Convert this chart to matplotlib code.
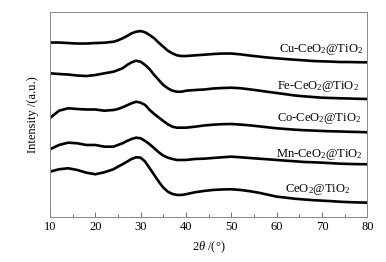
import matplotlib
matplotlib.use("Agg")
import matplotlib.pyplot as plt

plt.rcParams['font.family'] = ['Liberation Serif', 'DejaVu Serif']
plt.rcParams['mathtext.fontset'] = 'custom'
plt.rcParams['mathtext.rm'] = 'Liberation Serif'
plt.rcParams['mathtext.it'] = 'Liberation Serif:italic'

two_theta = list(range(10, 25, 2)) + list(range(25, 41)) + list(range(42, 81, 2))

cu = [177.5, 177.5, 177, 176.5, 176.5, 177, 177.3, 178.3,
      179.7, 181.7, 184, 186.7, 188.3, 189, 187.7, 185, 181.7, 177.3, 173.3, 169.3, 166.7, 164.7, 164, 164,
      164.7, 165.3, 166, 166.5, 166.5, 165.7, 164.5, 163.5, 162.5, 161.7, 161, 160.3, 159.7, 159, 158.7,
      158.4, 158, 158, 157.8, 157.7]
fe = [146.7, 146, 145.5, 144.5, 144, 145, 146.7, 148.3,
      150, 151.7, 155, 157.7, 159.3, 158.3, 155, 150.7, 145, 140, 135, 131.7, 129.3, 128.3, 128.3, 129.3,
      130, 130.5, 131.5, 132, 132.3, 131.8, 130.7, 129.5, 128.2, 127, 125.8, 124.5, 123.7, 123, 122.3,
      122, 121.7, 121.5, 121.2, 121]
co = [102, 109.3, 111.7, 111, 110.5, 110.5, 109.3, 110,
      111, 112.7, 114.7, 116.7, 118.3, 117.3, 115, 110, 106, 102.5, 99, 95.7, 93.3, 92.3, 92.3, 92.3,
      93.3, 94.5, 95.3, 95.8, 96, 95.4, 94.7, 93.7, 92.7, 91.7, 91, 90.3, 89.8, 89.4, 89, 88.7, 88.5,
      88.2, 88, 87.7]
mn = [70.7, 75, 77.3, 76.7, 75, 75, 73.3, 73.3,
      75, 76.7, 79, 81, 82.3, 81.7, 79, 75.7, 71.7, 67.7, 64.3, 62.3, 61, 60, 60, 60,
      61, 61.3, 62, 62.7, 63.3, 62.7, 62, 61.3, 60.7, 60, 59.3, 58.7, 58, 57.7, 57.3, 56.8, 56.3, 56,
      55.8, 55.7]
ce = [48.3, 50.7, 51.7, 50, 47.3, 45.7, 47.7, 50.7,
      53.3, 55.7, 58.3, 61, 62.7, 62.3, 58.3, 51.7, 45, 38.3, 32.3, 28.3, 26, 25, 25, 25.7,
      27.7, 29, 30, 30.5, 30.7, 30, 28.8, 27.3, 25.3, 23.3, 22.3, 21.2, 20.5, 19.8, 19.3, 18.8, 18.2,
      17.8, 17.5, 17.3]

labels = ['Cu-CeO$_2$@TiO$_2$', 'Fe-CeO$_2$@TiO$_2$', 'Co-CeO$_2$@TiO$_2$',
          'Mn-CeO$_2$@TiO$_2$', 'CeO$_2$@TiO$_2$']
label_x = [79.0, 78.1, 78.6, 79.0, 76.3]
label_y = [171, 134, 101, 65, 30]

fig = plt.figure(figsize=(3.86, 2.62), dpi=100)
ax = fig.add_axes([0.1295, 0.172, 0.822, 0.782])

for series in [cu, fe, co, mn, ce]:
    ax.plot(two_theta, series, color='black', lw=1.9, solid_joinstyle='round')

for lab, lx, ly in zip(labels, label_x, label_y):
    ax.text(lx, ly, lab, ha='right', va='center', fontsize=9)

ax.set_xlim(10, 80)
ax.set_ylim(3, 208)
ax.set_xticks(range(10, 81, 10))
ax.set_xticks(range(15, 80, 10), minor=True)
ax.set_yticks([])
ax.tick_params(axis='x', which='major', direction='in', length=3.5, width=0.6, labelsize=9, pad=3,
               color='#555555')
ax.tick_params(axis='x', which='minor', direction='in', length=2, width=0.6, color='#555555')
for sp in ax.spines.values():
    sp.set_color('#888888')
    sp.set_linewidth(0.7)

ax.set_xlabel(r'2$\it{\theta}$ /(°)', fontsize=9, labelpad=5)
ax.set_ylabel('Intensity /(a.u.)', fontsize=9, labelpad=8)

fig.savefig('out.png', dpi=100)
